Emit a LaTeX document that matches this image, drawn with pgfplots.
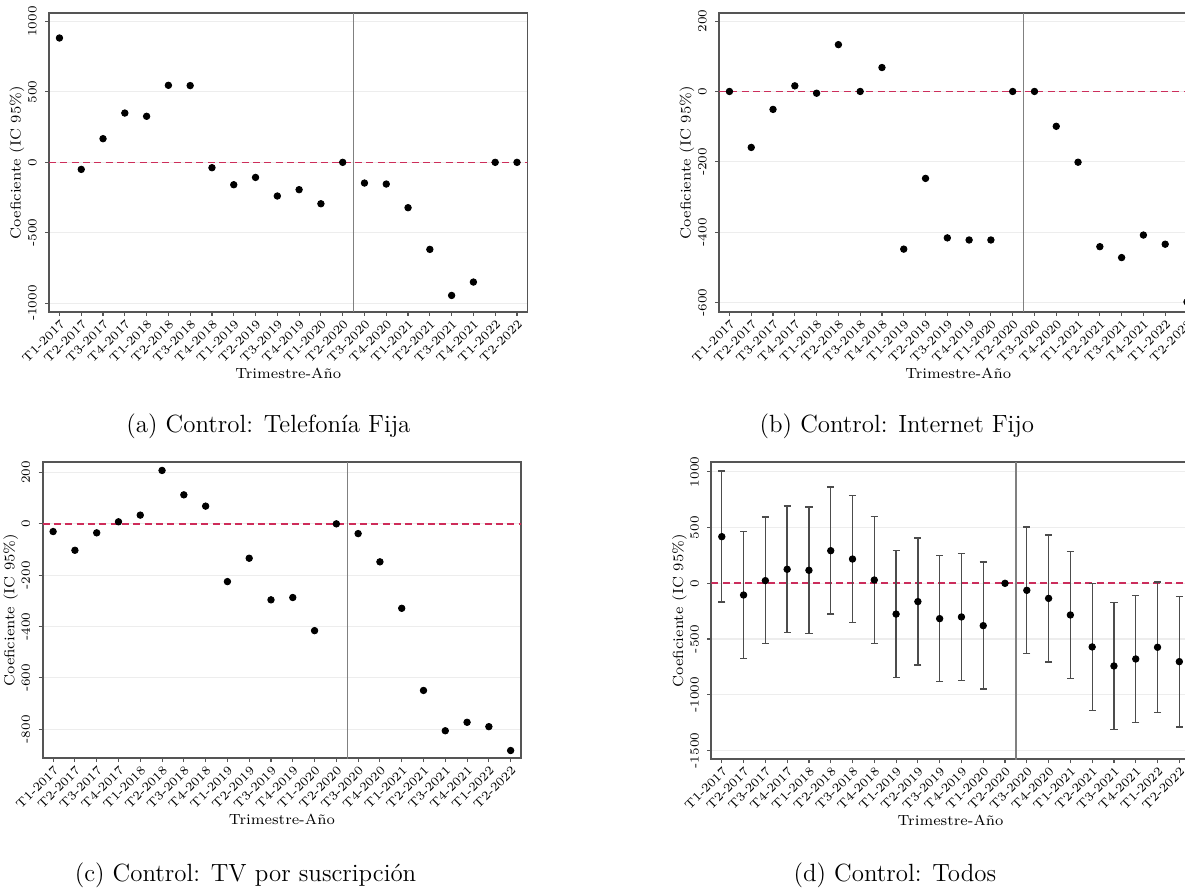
\documentclass[border=0pt]{standalone}
\usepackage{pgfplots}
\pgfplotsset{compat=1.18}
\definecolor{refa}{RGB}{205,45,90}
\definecolor{refb}{RGB}{204,46,91}
\definecolor{refc}{RGB}{206,44,89}
\definecolor{refd}{RGB}{203,45,92}
\definecolor{framegray}{RGB}{85,85,85}
\newcommand{\tickfont}{\fontsize{5.6}{6}\selectfont}
\newcommand{\labfont}{\fontsize{6.6}{7}\selectfont}
\pgfplotsset{
  panel/.style={
    scale only axis, width=215.3pt, height=134.3pt,
    anchor=north west,
    xmin=-0.48, xmax=21.48,
    xtick={0,...,21},
    xticklabels={T1-2017,T2-2017,T3-2017,T4-2017,T1-2018,T2-2018,T3-2018,T4-2018,
      T1-2019,T2-2019,T3-2019,T4-2019,T1-2020,T2-2020,T3-2020,T4-2020,
      T1-2021,T2-2021,T3-2021,T4-2021,T1-2022,T2-2022},
    xticklabel style={rotate=45, anchor=north east, font=\tickfont, inner sep=0.8pt},
    yticklabel style={rotate=90, anchor=south, font=\tickfont, inner sep=1pt},
    yticklabel shift=2.6pt,
    tick align=outside, major tick length=1.8pt, tick pos=left,
    ymajorgrids, grid style={black!7, line width=0.5pt},
    axis line style={framegray, line width=0.8pt},
    tick style={framegray, line width=0.5pt},
    xlabel={Trimestre-Año}, ylabel={Coeficiente (IC 95\%)},
    label style={font=\labfont},
    xlabel style={at={(axis description cs:0.5,0)}, anchor=center, yshift=-27.7pt},
    ylabel style={at={([xshift=-14.4pt]axis description cs:0,0.5)}, anchor=center},
  },
  vline/.style={draw=black!50, line width=0.6pt},
  zline/.style={draw=#1, color=#1, line width=0.75pt, dash pattern=on 3.2pt off 1.9pt},
  dots/.style={only marks, mark=*, mark size=1.45pt, draw=black, fill=black},
}
\begin{document}
\begin{tikzpicture}
\path[use as bounding box] (0pt,0pt) rectangle (533.25pt,-399.6pt);
\clip (0pt,0pt) rectangle (533.25pt,-399.6pt);

% (a) Telefonia fija
\begin{axis}[panel, at={(22.05pt,-6pt)}, ymin=-1061, ymax=1058,
  ytick={-1000,-500,0,500,1000}, yticklabels={-1000,-500,0,500,1000}]
\addplot[vline] coordinates {(13.5,-2000) (13.5,2000)};
\addplot[zline=refa] coordinates {(-1,0) (22,0)};
\addplot[dots] coordinates {
(0,883) (1,-50) (2,168) (3,350) (4,327) (5,547) (6,545) (7,-38)
(8,-159) (9,-107) (10,-239) (11,-194) (12,-294) (13,0)
(14,-147) (15,-154) (16,-322) (17,-618) (18,-945) (19,-850) (20,0) (21,0)};
\end{axis}

% (c) TV por suscripcion
\begin{axis}[panel, at={(19.2pt,-208pt)}, height=133.2pt, ymin=-913, ymax=240,
  ytick={-800,-600,-400,-200,0,200}, yticklabels={-800,-600,-400,-200,0,200}]
\addplot[vline] coordinates {(13.5,-2000) (13.5,2000)};
\addplot[zline=refc] coordinates {(-1,0) (22,0)};
\addplot[dots] coordinates {
(0,-30) (1,-103) (2,-35) (3,8) (4,34) (5,208) (6,113) (7,69)
(8,-225) (9,-134) (10,-296) (11,-287) (12,-416) (13,0)
(14,-38) (15,-148) (16,-329) (17,-649) (18,-806) (19,-773) (20,-790) (21,-883)};
\end{axis}

% (d) Todos
\begin{axis}[panel, at={(320.1pt,-208pt)}, height=133.65pt, ymin=-1579, ymax=1087,
  ytick={-1500,-1000,-500,0,500,1000}, yticklabels={-1500,-1000,-500,0,500,1000}]
\addplot[vline] coordinates {(13.5,-2000) (13.5,2000)};
\addplot[zline=refd] coordinates {(-1,0) (22,0)};
\addplot[dots, error bars/.cd, y dir=both, y explicit,
  error bar style={black!70, line width=0.6pt},
  error mark options={rotate=90, black!70, mark size=1.6pt, line width=0.6pt}] coordinates {
(0,419) += (0,590) -= (0,588)
(1,-105) += (0,570) -= (0,570)
(2,24) += (0,570) -= (0,566)
(3,126) += (0,568) -= (0,569)
(4,117) += (0,568) -= (0,569)
(5,293) += (0,571) -= (0,568)
(6,218) += (0,571) -= (0,568)
(7,30) += (0,568) -= (0,568)
(8,-276) += (0,569) -= (0,570)
(9,-164) += (0,571) -= (0,569)
(10,-317) += (0,568) -= (0,565)
(11,-302) += (0,568) -= (0,568)
(12,-380) += (0,571) -= (0,568)
(13,0) += (0,0) -= (0,0)
(14,-63) += (0,568) -= (0,564)
(15,-135) += (0,569) -= (0,571)
(16,-284) += (0,571) -= (0,568)
(17,-571) += (0,571) -= (0,568)
(18,-742) += (0,569) -= (0,568)
(19,-679) += (0,571) -= (0,568)
(20,-574) += (0,585) -= (0,588)
(21,-703) += (0,586) -= (0,586)};
\end{axis}

% (b) Internet fijo
\begin{axis}[panel, at={(323.55pt,-6pt)}, ymin=-626, ymax=222,
  ytick={-600,-400,-200,0,200}, yticklabels={-600,-400,-200,0,200}]
\addplot[zline=refb] coordinates {(-1,0) (22,0)};
\addplot[vline] coordinates {(13.5,-2000) (13.5,2000)};
\addplot[dots] coordinates {
(0,0) (1,-159) (2,-51) (3,16) (4,-5) (5,133) (6,0) (7,68)
(8,-448) (9,-247) (10,-416) (11,-422) (12,-422) (13,0)
(14,0) (15,-99) (16,-201) (17,-441) (18,-472) (19,-408) (20,-434) (21,-598)};
\end{axis}

\node[anchor=base, font=\fontsize{11.2}{13}\selectfont] at (120.8pt,-194.7pt) {(a) Control: Telefonía Fija};
\node[anchor=base, font=\fontsize{11.2}{13}\selectfont] at (403.6pt,-194.7pt) {(b) Control: Internet Fijo};
\node[anchor=base, font=\fontsize{11.2}{13}\selectfont] at (110.5pt,-396.7pt) {(c) Control: TV por suscripción};
\node[anchor=base, font=\fontsize{11.2}{13}\selectfont] at (402.7pt,-396.7pt) {(d) Control: Todos};
\end{tikzpicture}
\end{document}
